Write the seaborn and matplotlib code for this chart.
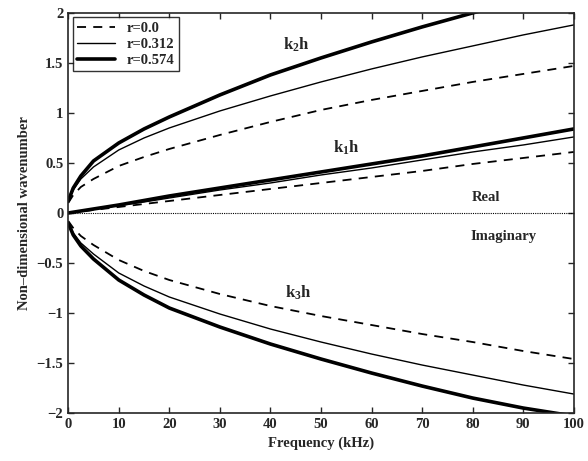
import numpy as np
import pandas as pd
import seaborn as sns
import matplotlib
matplotlib.use("Agg")
import matplotlib.pyplot as plt
from matplotlib.lines import Line2D

freq = [0, 1, 2.5, 5, 10, 15, 20, 30, 40, 50, 60, 70, 80, 90, 100]

# k2h (real)
k2_r0 = [0.10, 0.18, 0.26, 0.34, 0.47, 0.56, 0.64, 0.78, 0.91, 1.03, 1.13, 1.22, 1.31, 1.39, 1.47]
k2_r312 = [0.12, 0.23, 0.34, 0.46, 0.63, 0.75, 0.85, 1.02, 1.17, 1.31, 1.44, 1.56, 1.67, 1.78, 1.88]
k2_r574 = [0.12, 0.25, 0.37, 0.52, 0.70, 0.84, 0.96, 1.18, 1.38, 1.55, 1.71, 1.86, 2.00, 2.13, 2.25]

# k1h (real)
k1_r0 = [0.0, 0.006, 0.015, 0.03, 0.06, 0.09, 0.12, 0.18, 0.24, 0.30, 0.36, 0.42, 0.49, 0.55, 0.61]
k1_r312 = [0.0, 0.008, 0.019, 0.037, 0.075, 0.11, 0.15, 0.23, 0.30, 0.38, 0.45, 0.53, 0.61, 0.68, 0.76]
k1_r574 = [0.0, 0.008, 0.02, 0.04, 0.08, 0.125, 0.17, 0.25, 0.33, 0.41, 0.49, 0.57, 0.66, 0.75, 0.84]

# k3h (imaginary)
k3_r0 = [-0.08, -0.15, -0.23, -0.32, -0.47, -0.58, -0.67, -0.81, -0.93, -1.03, -1.12, -1.21, -1.29, -1.38, -1.46]
k3_r312 = [-0.10, -0.20, -0.30, -0.41, -0.60, -0.73, -0.84, -1.01, -1.16, -1.29, -1.41, -1.52, -1.62, -1.72, -1.81]
k3_r574 = [-0.10, -0.22, -0.33, -0.46, -0.67, -0.82, -0.95, -1.14, -1.31, -1.46, -1.60, -1.73, -1.85, -1.95, -2.03]

r_labels = ["r=0.0", "r=0.312", "r=0.574"]
styles = {"r=0.0": dict(ls=(0, (5, 4)), lw=1.3),
          "r=0.312": dict(ls="-", lw=1.0),
          "r=0.574": dict(ls="-", lw=2.6)}

curves = {
    "k1h": [k1_r0, k1_r312, k1_r574],
    "k2h": [k2_r0, k2_r312, k2_r574],
    "k3h": [k3_r0, k3_r312, k3_r574],
}

rows = []
for mode, series in curves.items():
    for lab, vals in zip(r_labels, series):
        for f, v in zip(freq, vals):
            rows.append({"freq": f, "k": v, "mode": mode, "r": lab})
df = pd.DataFrame(rows)

sns.set_style("ticks")
plt.rcParams["font.family"] = ["Liberation Serif", "DejaVu Serif"]
plt.rcParams["font.weight"] = "bold"
plt.rcParams["mathtext.fontset"] = "custom"
plt.rcParams["mathtext.rm"] = "Liberation Serif:bold"
plt.rcParams["mathtext.it"] = "Liberation Serif:bold"
plt.rcParams["mathtext.default"] = "rm"

fig, ax = plt.subplots(figsize=(5.88, 4.61), dpi=100)
fig.subplots_adjust(left=0.116, right=0.976, top=0.972, bottom=0.104)

for (mode, lab), g in df.groupby(["mode", "r"]):
    st = styles[lab]
    sns.lineplot(data=g, x="freq", y="k", ax=ax, color="black",
                 linestyle=st["ls"], linewidth=st["lw"], legend=False)

ax.axhline(0, color="black", lw=0.8, ls=(0, (1, 1)))

ax.set_xlim(0, 100)
ax.set_ylim(-2, 2)
ax.set_xticks(np.arange(0, 101, 10))
ax.set_yticks([-2, -1.5, -1, -0.5, 0, 0.5, 1, 1.5, 2])
ax.set_yticklabels(["\u22122", "\u22121.5", "\u22121", "\u22120.5", "0", "0.5", "1", "1.5", "2"])
ax.tick_params(direction="in", top=True, right=True, labelsize=10.5, length=4, width=1)
for sp in ax.spines.values():
    sp.set_linewidth(1.2)
ax.set_xlabel("Frequency (kHz)", fontsize=10.5, fontweight="bold")
ax.set_ylabel("Non\u2013dimensional wavenumber", fontsize=10.5, fontweight="bold")

ax.text(45.2, 1.68, r"k$_2$h", fontsize=12, fontweight="bold", ha="center", va="center")
ax.text(55, 0.65, r"k$_1$h", fontsize=12, fontweight="bold", ha="center", va="center")
ax.text(45.5, -0.80, r"k$_3$h", fontsize=12, fontweight="bold", ha="center", va="center")
ax.text(82.7, 0.15, "Real", fontsize=10.5, fontweight="bold", ha="center", va="center")
ax.text(86, -0.24, "Imaginary", fontsize=10.5, fontweight="bold", ha="center", va="center")

handles = [Line2D([], [], color="black", linestyle=styles[l]["ls"], linewidth=styles[l]["lw"])
           for l in r_labels]
leg = ax.legend(handles, r_labels, loc="upper left", fontsize=10.5, frameon=True,
                fancybox=False, edgecolor="black", handlelength=2.6,
                borderaxespad=0.3, labelspacing=0.2, borderpad=0.3)
leg.get_frame().set_linewidth(1.0)

fig.savefig("out.png", dpi=100)
